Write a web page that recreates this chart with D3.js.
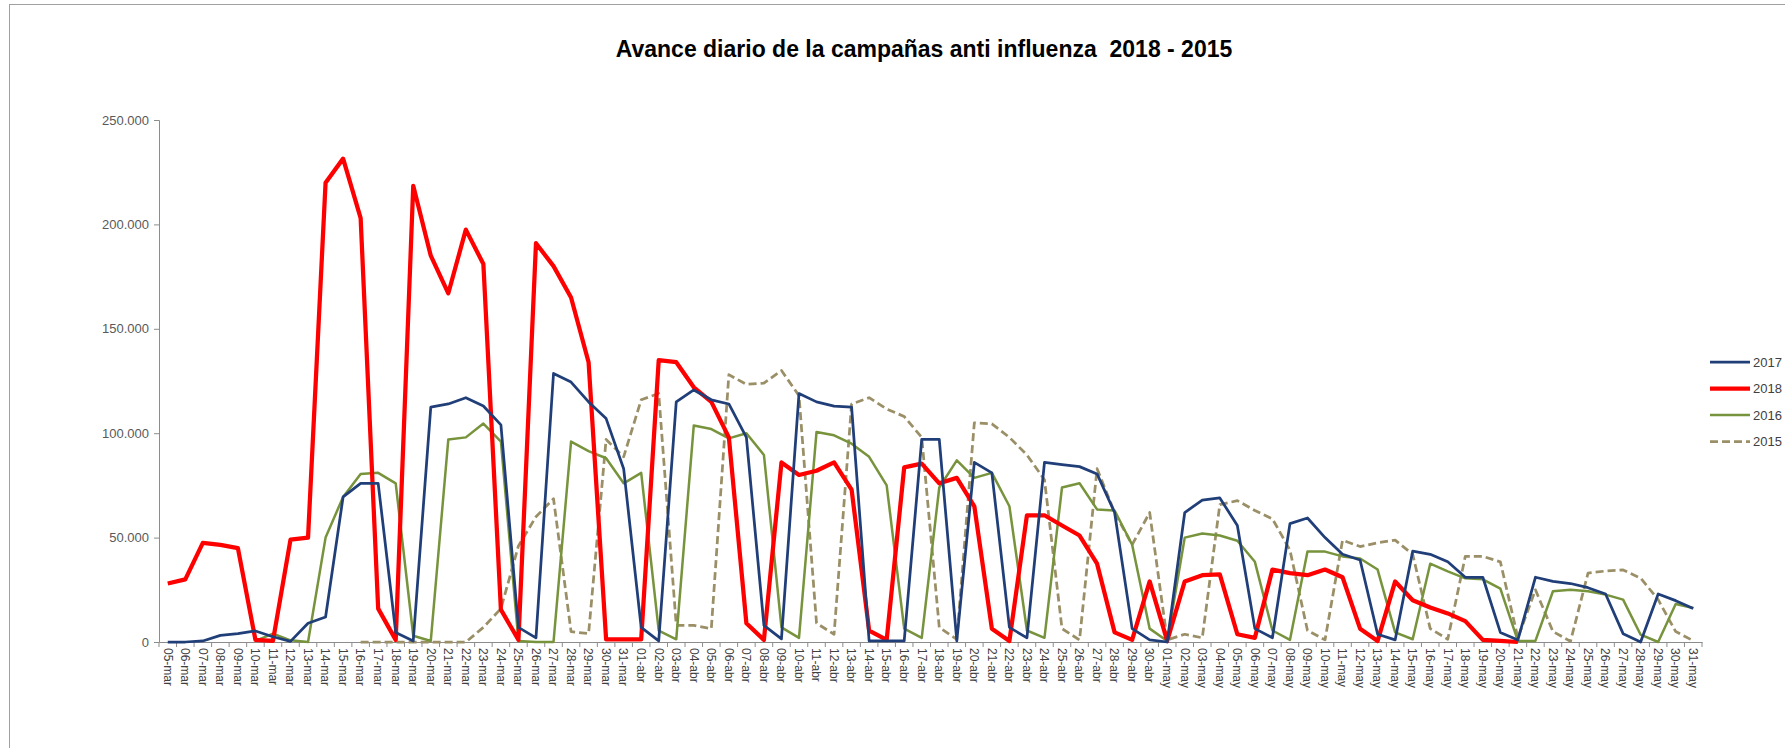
<!DOCTYPE html>
<html>
<head>
<meta charset="utf-8">
<script src="https://cdn.jsdelivr.net/npm/d3@7"></script>
<style>
  html, body { margin: 0; padding: 0; background: #fff; }
  svg { display: block; }
</style>
</head>
<body>
<svg id="chart" width="1785" height="748"></svg>
<script>
// ---- DATA (thousands of doses) ----
const days = [
  "05-mar","06-mar","07-mar","08-mar","09-mar","10-mar","11-mar","12-mar","13-mar","14-mar","15-mar","16-mar","17-mar","18-mar","19-mar","20-mar","21-mar","22-mar","23-mar","24-mar","25-mar","26-mar","27-mar","28-mar","29-mar","30-mar","31-mar",
  "01-abr","02-abr","03-abr","04-abr","05-abr","06-abr","07-abr","08-abr","09-abr","10-abr","11-abr","12-abr","13-abr","14-abr","15-abr","16-abr","17-abr","18-abr","19-abr","20-abr","21-abr","22-abr","23-abr","24-abr","25-abr","26-abr","27-abr","28-abr","29-abr","30-abr",
  "01-may","02-may","03-may","04-may","05-may","06-may","07-may","08-may","09-may","10-may","11-may","12-may","13-may","14-may","15-may","16-may","17-may","18-may","19-may","20-may","21-may","22-may","23-may","24-may","25-may","26-may","27-may","28-may","29-may","30-may","31-may"
];

const v2017 = [
  0,0,0.5,3.2,4,5.3,2.5,0.3,9,12,69.5,76,76,4.6,0.5,112.5,114,117,113,104,7,2,128.6,124.5,115,107,83,
  7,0.5,115,120.7,116,114,98,8,1.5,119,115,113,112.5,0.5,0.5,0.5,97,97,0.5,86,81,7,2,86,85,84,80.5,62,6.4,1,
  0,62,68,69,55.8,6.4,2,56.7,59.4,50,42,39.3,3.7,1,43.5,42,38.4,31,31,4.6,1,31,29,28,26,23,4,0,23,19.8,16
];

const v2018 = [
  28,30,47.5,46.5,45,1,0.5,49,50,220,231.5,203,16,1,218.5,185,167,197.5,181,15.5,1,191,180,165,134,1.3,1.3,
  1.3,135,134,122,115,98,9,1,86,80,82,86,73,5.5,1,83.6,85.4,76,78.6,65,6.4,0.5,60.7,60.7,55.8,51,37.5,4.6,1,29,
  0.5,29,32,32.4,3.7,2,34.7,33,32,34.7,31,6.4,0.5,29,20,16.5,13.7,10,1,0.5,0,null,null,null,null,null,null,null,null,null,null
];

const v2016 = [
  null,null,null,null,null,0.5,4,0.8,0,50,69.5,80.5,81,76,3,0.5,97,98,104.6,96,0.5,0,0,96,91.4,88,76,
  81,5.5,1.3,103.7,102,97.5,100,89.6,7,2,100.6,99,95,88.7,75,6.4,2,74,87,78.6,81,65,5.5,2,74,76,63.5,63,46.6,6.4,
  0.5,50,52,51,48.5,38.4,5.5,1,43.3,43.3,41,40,34.7,4.6,1.3,37.5,33.8,30.5,30,25.6,0.5,0.5,24.3,25,24.3,22.7,20.3,3.5,0,18.2,16.3
];

const v2015 = [
  null,null,null,null,null,null,null,null,null,null,null,0,0,0,0,0,0,0,7,16,46,60,68.6,5,4,97,88.7,
  116,119,8,8,6.4,128,123.4,124,130,118,9,3.7,114,117,111.6,108,98,7,1.3,105,104.5,98,89.6,77.7,6.4,1,83,62,46.6,62,
  1,3.7,2,65.8,67.7,63,59,44,5.5,1,48.8,45.7,47.5,48.8,42,6.4,1.3,41,41,38.4,2,25,5,0.3,33,34,34.5,30.6,20.3,5,0.6
];

const yTicks = [0, 50000, 100000, 150000, 200000, 250000];
const seriesNames = ["2017", "2018", "2016", "2015"];
const seriesValues = [v2017, v2018, v2016, v2015];
const titleText = "Avance diario de la campañas anti influenza  2018 - 2015";

// ---- STYLES ----
const styles = {
  "2017": { color: "#203E78", width: 2.75, dash: null },
  "2018": { color: "#FF0000", width: 4.25, dash: null },
  "2016": { color: "#77933C", width: 2.5, dash: null },
  "2015": { color: "#9A8F66", width: 2.75, dash: "8,4" }
};

const svg = d3.select("#chart");
const W = 1785, H = 748;
const m = { left: 159, right: 1702, top: 120, bottom: 642 };

// chart border
svg.append("rect")
  .attr("x", 9.5).attr("y", 4.5)
  .attr("width", W + 20).attr("height", H + 20)
  .attr("fill", "#fff").attr("stroke", "#A0A0A0").attr("stroke-width", 1);

// title
svg.append("text")
  .attr("x", 924).attr("y", 57)
  .attr("text-anchor", "middle")
  .style("white-space", "pre")
  .attr("font-family", "Liberation Sans, Arial, sans-serif")
  .attr("font-weight", "bold")
  .attr("font-size", 23)
  .attr("fill", "#000")
  .text(titleText);

const x = d3.scaleBand().domain(days).range([m.left, m.right]).paddingInner(0).paddingOuter(0);
const y = d3.scaleLinear().domain([0, 250000]).range([m.bottom, m.top]);

// Y axis
const yAxis = svg.append("g")
  .attr("transform", `translate(${m.left},0)`)
  .call(d3.axisLeft(y).tickValues(yTicks).tickSize(5).tickPadding(5)
    .tickFormat(d => d === 0 ? "0" : d3.format(",")(d).replace(/,/g, ".")));
yAxis.select(".domain").attr("stroke", "#8C8C8C");
yAxis.selectAll(".tick line").attr("stroke", "#8C8C8C");
yAxis.selectAll(".tick text")
  .attr("font-family", "Liberation Sans, Arial, sans-serif")
  .attr("font-size", 13)
  .attr("fill", "#595959");

// X axis
const xAxis = svg.append("g")
  .attr("transform", `translate(0,${m.bottom})`)
  .call(d3.axisBottom(x).tickSize(0).tickSizeOuter(0));
xAxis.select(".domain").attr("stroke", "#8C8C8C");
xAxis.selectAll(".tick").append("line")
  .attr("x1", -x.bandwidth() / 2).attr("x2", -x.bandwidth() / 2)
  .attr("y1", 0).attr("y2", 5)
  .attr("stroke", "#8C8C8C");
xAxis.append("line")
  .attr("x1", m.right).attr("x2", m.right).attr("y1", 0).attr("y2", 5)
  .attr("stroke", "#8C8C8C");
xAxis.selectAll(".tick text")
  .attr("transform", "rotate(90)")
  .attr("x", 6).attr("y", 0).attr("dy", "0.35em")
  .attr("text-anchor", "start")
  .attr("font-family", "Liberation Sans, Arial, sans-serif")
  .attr("font-size", 12)
  .attr("fill", "#404040");

// lines
const cx = d => x(d) + x.bandwidth() / 2;
const line = d3.line()
  .defined(d => d.v !== null)
  .x(d => cx(d.day))
  .y(d => y(d.v * 1000));

const drawOrder = ["2015", "2016", "2018", "2017"];
drawOrder.forEach(name => {
  const i = seriesNames.indexOf(name);
  const data = days.map((day, k) => ({ day, v: seriesValues[i][k] }));
  const s = styles[name];
  svg.append("path")
    .datum(data)
    .attr("fill", "none")
    .attr("stroke", s.color)
    .attr("stroke-width", s.width)
    .attr("stroke-linejoin", "round")
    .attr("stroke-dasharray", s.dash)
    .attr("d", line);
});

// legend
const legend = svg.append("g");
seriesNames.forEach((name, i) => {
  const s = styles[name];
  const ly = 362 + i * 26.5;
  legend.append("line")
    .attr("x1", 1710).attr("x2", 1750).attr("y1", ly).attr("y2", ly)
    .attr("stroke", s.color).attr("stroke-width", s.width)
    .attr("stroke-dasharray", s.dash);
  legend.append("text")
    .attr("x", 1753).attr("y", ly).attr("dy", "0.35em")
    .attr("font-family", "Liberation Sans, Arial, sans-serif")
    .attr("font-size", 13)
    .attr("fill", "#404040")
    .text(name);
});
</script>
</body>
</html>
